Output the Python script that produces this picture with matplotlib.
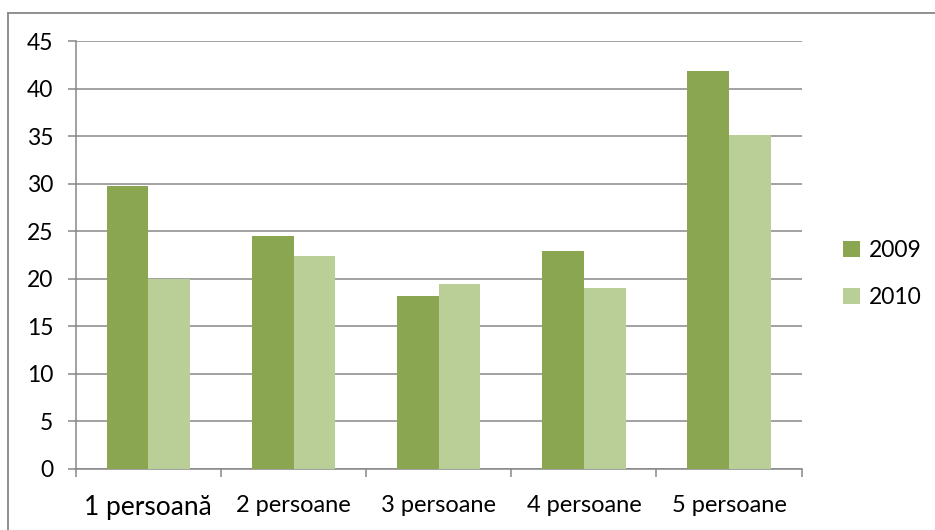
import matplotlib.pyplot as plt
import numpy as np
from matplotlib.lines import Line2D

categories = ["1 persoană", "2 persoane", "3 persoane", "4 persoane", "5 persoane"]
values_2009 = [29.8, 24.5, 18.2, 22.9, 41.8]
values_2010 = [20.0, 22.4, 19.5, 19.0, 35.1]
series_labels = ["2009", "2010"]
yticks = [0, 5, 10, 15, 20, 25, 30, 35, 40, 45]

color_2009 = "#8BA650"
color_2010 = "#BACF97"
grid_color = "#878787"

plt.rcParams["font.family"] = ["Lato", "DejaVu Sans"]

fig = plt.figure(figsize=(9.35, 5.3), dpi=100)
ax = fig.add_axes([0.081, 0.1151, 0.7764, 0.8075])

x = np.arange(len(categories))
w = 0.287
ax.bar(x - w / 2, values_2009, width=w, color=color_2009, label=series_labels[0], zorder=3)
ax.bar(x + w / 2, values_2010, width=w, color=color_2010, label=series_labels[1], zorder=3)

ax.set_xlim(-0.5, len(categories) - 0.5)
ax.set_ylim(0, 45)
ax.set_yticks(yticks)
ax.yaxis.grid(True, color=grid_color, linewidth=1.1, zorder=0)
ax.set_axisbelow(True)

# category labels centred, tick marks on the boundaries
ax.set_xticks(x)
ax.set_xticklabels(categories)
ax.set_xticks(np.arange(len(categories) + 1) - 0.5, minor=True)
ax.tick_params(axis="x", which="major", length=0, pad=19, labelsize=17)
ax.tick_params(axis="x", which="minor", length=5.5, width=1.1, color=grid_color)
ax.tick_params(axis="y", length=6, width=1.1, color=grid_color, pad=10, labelsize=16.5)
ax.get_xticklabels()[0].set_fontsize(19)

for s in ["top", "right"]:
    ax.spines[s].set_visible(False)
for s in ["left", "bottom"]:
    ax.spines[s].set_color(grid_color)
    ax.spines[s].set_linewidth(1.1)

ax.legend(loc="center left", bbox_to_anchor=(0.88, 0.483), bbox_transform=fig.transFigure,
          frameon=False, fontsize=16.5, handlelength=0.72, handleheight=0.72,
          handletextpad=0.4, labelspacing=1.15)

# outer chart border (top and left edges visible)
fig.add_artist(Line2D([8 / 935, 1], [1 - 13 / 530] * 2, transform=fig.transFigure,
                      color=grid_color, linewidth=1.3))
fig.add_artist(Line2D([8 / 935] * 2, [0, 1 - 13 / 530], transform=fig.transFigure,
                      color=grid_color, linewidth=1.3))

fig.savefig("out.png", dpi=100)
